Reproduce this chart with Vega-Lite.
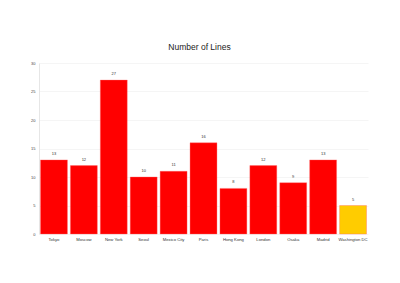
{
  "$schema": "https://vega.github.io/schema/vega-lite/v6.json",
  "autosize": "none",
  "width": 329,
  "height": 171,
  "padding": {"left": 39, "top": 63, "right": 32, "bottom": 49},
  "background": "white",
  "title": {"text": "Number of Lines", "fontSize": 8.5, "font": "Liberation Sans", "fontWeight": "normal", "color": "#222", "offset": 10, "dx": -4},
  "data": {"values": [
    {"city": "Tokyo", "lines": 13, "hl": "no"},
    {"city": "Moscow", "lines": 12, "hl": "no"},
    {"city": "New York", "lines": 27, "hl": "no"},
    {"city": "Seoul", "lines": 10, "hl": "no"},
    {"city": "Mexico City", "lines": 11, "hl": "no"},
    {"city": "Paris", "lines": 16, "hl": "no"},
    {"city": "Hong Kong", "lines": 8, "hl": "no"},
    {"city": "London", "lines": 12, "hl": "no"},
    {"city": "Osaka", "lines": 9, "hl": "no"},
    {"city": "Madrid", "lines": 13, "hl": "no"},
    {"city": "Washington DC", "lines": 5, "hl": "yes"}
  ]},
  "config": {"view": {"stroke": null}, "font": "Liberation Sans"},
  "encoding": {
    "x": {"field": "city", "type": "nominal", "sort": null,
      "scale": {"paddingInner": 0.1, "paddingOuter": 0.05},
      "axis": {"title": null, "labelAngle": 0, "labelFontSize": 4.2, "labelColor": "#333", "ticks": false, "domain": false, "labelPadding": 3}},
    "y": {"field": "lines", "type": "quantitative",
      "scale": {"domain": [0, 30]},
      "axis": {"title": null, "values": [0, 5, 10, 15, 20, 25, 30], "labelFontSize": 4, "labelColor": "#444", "ticks": false, "labelPadding": 4, "domainColor": "#e6e6e6", "gridColor": "#f3f3f3", "gridWidth": 0.8}}
  },
  "layer": [
    {"mark": {"type": "bar", "stroke": "#ff6666", "strokeWidth": 0.6, "strokeOpacity": 0.6},
      "encoding": {"color": {"field": "hl", "type": "nominal", "scale": {"domain": ["no", "yes"], "range": ["#ff0000", "#ffcc00"]}, "legend": null}}},
    {"mark": {"type": "text", "dy": -4, "fontSize": 4, "color": "#333", "baseline": "bottom"},
      "encoding": {"text": {"field": "lines", "type": "quantitative"}}}
  ]
}
